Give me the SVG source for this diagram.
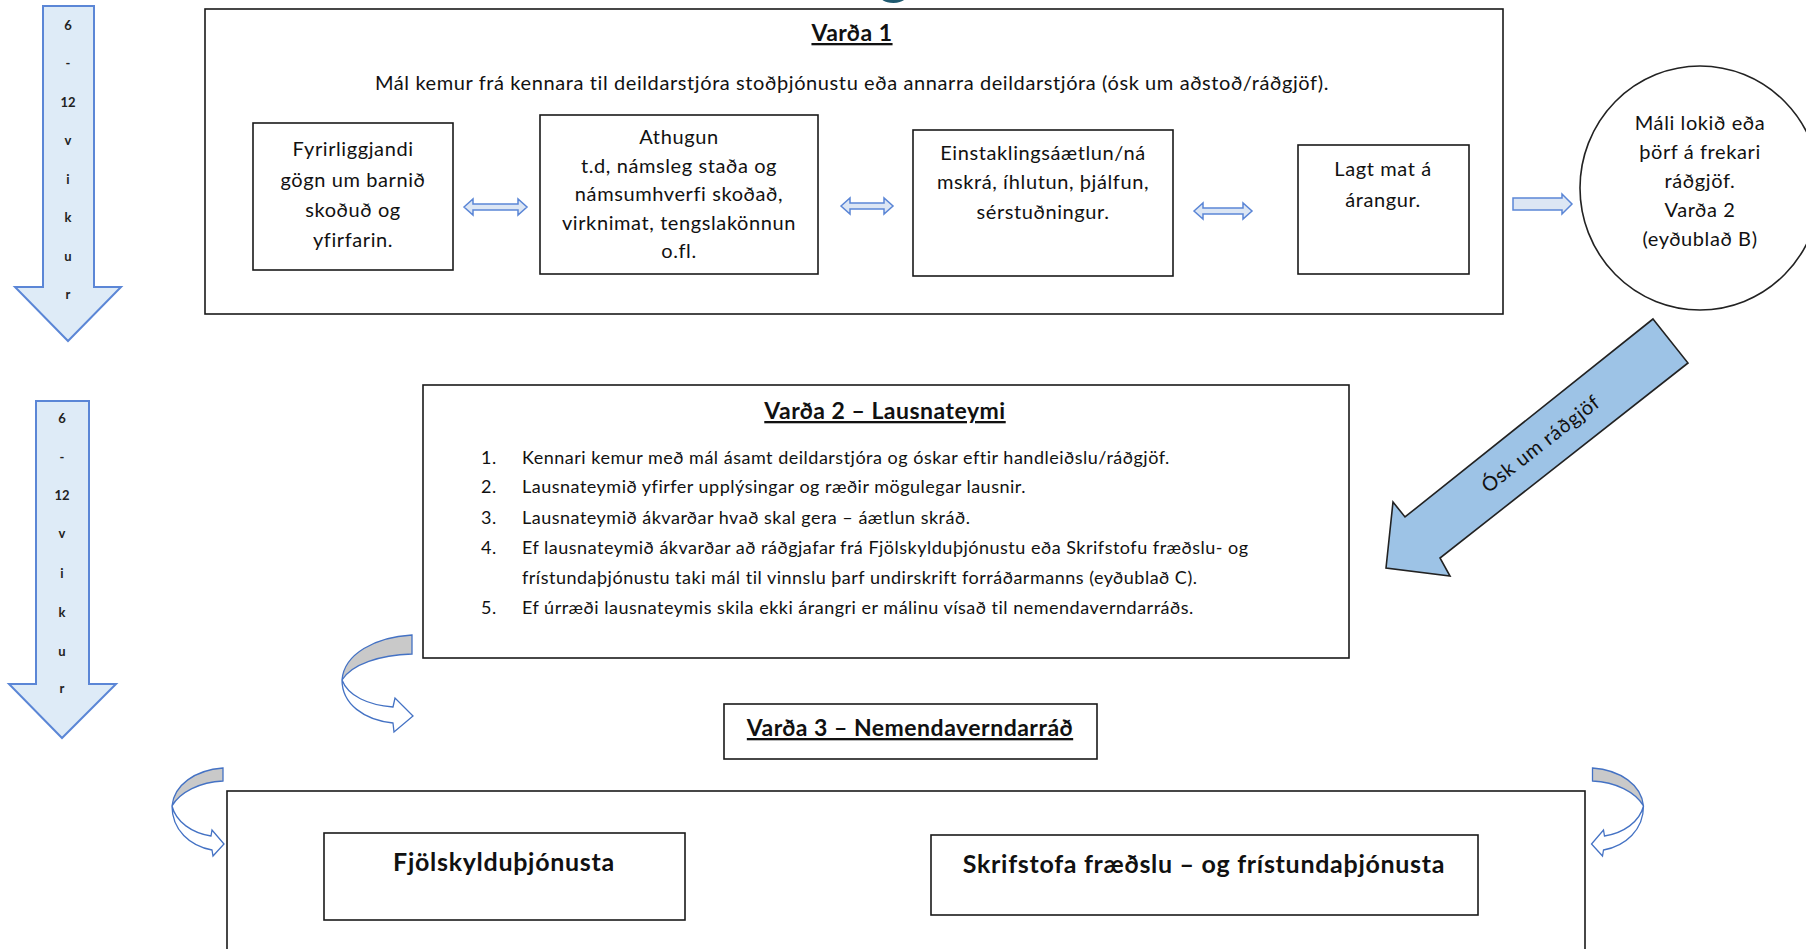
<svg xmlns="http://www.w3.org/2000/svg" width="1806" height="949" viewBox="0 0 1806 949">
<style>
.box{fill:#fff;stroke:#1a1a1a;stroke-width:1.6}
.t{font-family:Lato,"Open Sans",sans-serif;font-size:20px;letter-spacing:0.6px;fill:#111;text-anchor:middle}
.tb{font-family:Lato,"Open Sans",sans-serif;font-size:23px;letter-spacing:0.5px;font-weight:bold;fill:#111;text-anchor:middle}
.bb{font-family:Lato,"Open Sans",sans-serif;font-size:25px;letter-spacing:0.7px;font-weight:bold;fill:#111;text-anchor:middle}
.u{text-decoration:underline}
.li{font-family:Lato,"Open Sans",sans-serif;font-size:18px;letter-spacing:0.5px;fill:#111}
.vk{font-family:Lato,"Open Sans",sans-serif;font-size:13px;font-weight:bold;fill:#222;text-anchor:middle}
.down{fill:#DEEBF7;stroke:#5B86D6;stroke-width:2}
.dbl{fill:#DCE6F4;stroke:#5B86D6;stroke-width:1.5}
.cg{fill:#C9C9C9;stroke:#4472C4;stroke-width:1.3}
.cw{fill:#fff;stroke:#4472C4;stroke-width:1.3}
</style>
<rect width="1806" height="949" fill="#fff"/>
<text x="894" y="-8" font-family="Lato,sans-serif" font-size="60" font-weight="bold" fill="#1F5A70" text-anchor="middle">g</text>

<g id="weeks1">
<polygon class="down" points="43,6 94,6 94,287 121,287 68,341 15,287 43,287"/>
<text class="vk" x="68" y="30">6</text><text class="vk" x="68" y="68">-</text><text class="vk" x="68" y="107">12</text><text class="vk" x="68" y="145">v</text><text class="vk" x="68" y="184">i</text><text class="vk" x="68" y="222">k</text><text class="vk" x="68" y="261">u</text><text class="vk" x="68" y="299">r</text>
</g>
<g id="weeks2">
<polygon class="down" points="36,401 89,401 89,684 116,684 62,738 9,684 36,684"/>
<text class="vk" x="62" y="423">6</text><text class="vk" x="62" y="462">-</text><text class="vk" x="62" y="500">12</text><text class="vk" x="62" y="538">v</text><text class="vk" x="62" y="578">i</text><text class="vk" x="62" y="617">k</text><text class="vk" x="62" y="656">u</text><text class="vk" x="62" y="693">r</text>
</g>

<g id="varda1">
<rect class="box" x="205" y="9" width="1298" height="305"/>
<text class="tb u" x="852" y="41">Varða 1</text>
<text class="t" x="852" y="90">Mál kemur frá kennara til deildarstjóra stoðþjónustu eða annarra deildarstjóra (ósk um aðstoð/ráðgjöf).</text>
</g>
<g id="boxA">
<rect class="box" x="253" y="123" width="200" height="147"/>
<text class="t" x="353" y="156">Fyrirliggjandi</text><text class="t" x="353" y="187">gögn um barnið</text><text class="t" x="353" y="217">skoðuð og</text><text class="t" x="353" y="247">yfirfarin.</text>
</g>
<g id="boxB">
<rect class="box" x="540" y="115" width="278" height="159"/>
<text class="t" x="679" y="144">Athugun</text><text class="t" x="679" y="173">t.d, námsleg staða og</text><text class="t" x="679" y="201">námsumhverfi skoðað,</text><text class="t" x="679" y="230">virknimat, tengslakönnun</text><text class="t" x="679" y="258">o.fl.</text>
</g>
<g id="boxC">
<rect class="box" x="913" y="130" width="260" height="146"/>
<text class="t" x="1043" y="160">Einstaklingsáætlun/ná</text><text class="t" x="1043" y="189">mskrá, íhlutun, þjálfun,</text><text class="t" x="1043" y="219">sérstuðningur.</text>
</g>
<g id="boxD">
<rect class="box" x="1298" y="145" width="171" height="129"/>
<text class="t" x="1383" y="176">Lagt mat á</text><text class="t" x="1383" y="207">árangur.</text>
</g>
<g id="circle">
<ellipse cx="1700" cy="188" rx="120" ry="122" fill="#fff" stroke="#222" stroke-width="1.6"/>
<text class="t" x="1700" y="130">Máli lokið eða</text><text class="t" x="1700" y="159">þörf á frekari</text><text class="t" x="1700" y="188">ráðgjöf.</text><text class="t" x="1700" y="217">Varða 2</text><text class="t" x="1700" y="246">(eyðublað B)</text>
</g>

<g id="varda2">
<rect class="box" x="423" y="385" width="926" height="273"/>
<text class="tb u" x="885" y="419">Varða 2 – Lausnateymi</text>
<text class="li" x="481" y="464">1.</text><text class="li" x="522" y="464">Kennari kemur með mál ásamt deildarstjóra og óskar eftir handleiðslu/ráðgjöf.</text>
<text class="li" x="481" y="493">2.</text><text class="li" x="522" y="493">Lausnateymið yfirfer upplýsingar og ræðir mögulegar lausnir.</text>
<text class="li" x="481" y="524">3.</text><text class="li" x="522" y="524">Lausnateymið ákvarðar hvað skal gera – áætlun skráð.</text>
<text class="li" x="481" y="554">4.</text><text class="li" x="522" y="554">Ef lausnateymið ákvarðar að ráðgjafar frá Fjölskylduþjónustu  eða Skrifstofu fræðslu- og</text>
<text class="li" x="522" y="584">frístundaþjónustu taki mál til vinnslu þarf undirskrift forráðarmanns (eyðublað C).</text>
<text class="li" x="481" y="614">5.</text><text class="li" x="522" y="614">Ef úrræði lausnateymis skila ekki árangri er málinu vísað til nemendaverndarráðs.</text>
</g>

<g id="varda3">
<rect class="box" x="724" y="704" width="373" height="55"/>
<text class="tb u" x="910" y="736">Varða 3 – Nemendaverndarráð</text>
</g>
<g id="bottom">
<rect class="box" x="227" y="791" width="1358" height="200"/>
</g>
<g id="fjol">
<rect class="box" x="324" y="833" width="361" height="87"/>
<text class="bb" x="504" y="871">Fjölskylduþjónusta</text>
</g>
<g id="skrif">
<rect class="box" x="931" y="835" width="547" height="80"/>
<text class="bb" x="1204" y="873">Skrifstofa fræðslu – og frístundaþjónusta</text>
</g>

<g id="connectors">
<polygon class="dbl" points="464,207 473,199 473,204 518,204 518,199 527,207 518,215 518,210 473,210 473,215"/>
<polygon class="dbl" points="841,206 850,198 850,203 884,203 884,198 893,206 884,214 884,209 850,209 850,214"/>
<polygon class="dbl" points="1194,211 1203,203 1203,208 1243,208 1243,203 1252,211 1243,219 1243,214 1203,214 1203,219"/>
<polygon class="dbl" points="1513,198 1562,198 1562,194 1572,204 1562,214 1562,210 1513,210"/>
<g id="osk">
<polygon points="1653,319 1688,363 1440,558 1450,576 1386,568 1393,502 1405,517" fill="#9DC3E6" stroke="#222" stroke-width="1.6" stroke-linejoin="miter"/>
<text class="t" x="1540" y="451" font-size="24" style="letter-spacing:0.7px" transform="rotate(-38 1540 443)">Ósk um ráðgjöf</text>
</g>
<g id="curve1">
<path class="cg" d="M412,635 C375,637 344,654 342,680 C352,664 380,655 412,654 Z"/>
<path class="cw" d="M342,680 C342,704 364,720 393,723 L394,732 L413,716 L395,698 L393,707 C368,705 348,696 342,680 Z"/>
</g>
<g id="curve2">
<path class="cg" d="M223,768 C195,770 174,785 172,806 C180,792 200,782 223,781 Z"/>
<path class="cw" d="M172,806 C172,830 190,846 212,850 L213,856 L224,844 L212,830 L211,836 C192,833 176,822 172,806 Z"/>
</g>
<g id="curve3" transform="translate(1815.5,0) scale(-1,1)">
<path class="cg" d="M223,768 C195,770 174,785 172,806 C180,792 200,782 223,781 Z"/>
<path class="cw" d="M172,806 C172,830 190,846 212,850 L213,856 L224,844 L212,830 L211,836 C192,833 176,822 172,806 Z"/>
</g>
</g>
</svg>
